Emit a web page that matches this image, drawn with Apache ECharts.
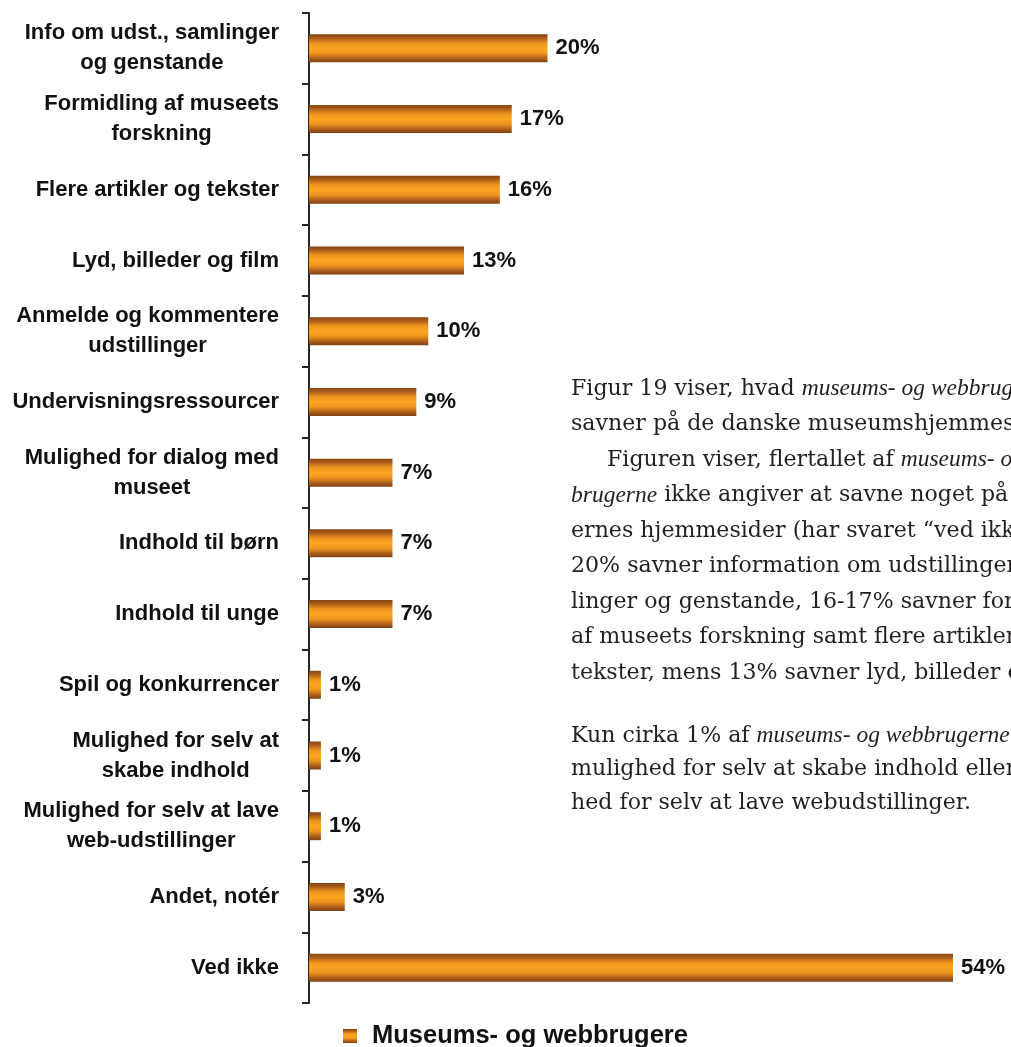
<!DOCTYPE html>
<html>
<head>
<meta charset="utf-8">
<script src="https://cdn.jsdelivr.net/npm/echarts@6/dist/echarts.min.js"></script>
<style>
html,body{margin:0;padding:0;background:#fff;}
#chart{width:1011px;height:1047px;}
</style>
</head>
<body>
<div id="chart"></div>
<script>
const categories = [
  "Info om udst., samlinger\nog genstande",
  "Formidling af museets\nforskning",
  "Flere artikler og tekster",
  "Lyd, billeder og film",
  "Anmelde og kommentere\nudstillinger",
  "Undervisningsressourcer",
  "Mulighed for dialog med\nmuseet",
  "Indhold til børn",
  "Indhold til unge",
  "Spil og konkurrencer",
  "Mulighed for selv at\nskabe indhold",
  "Mulighed for selv at lave\nweb-udstillinger",
  "Andet, notér",
  "Ved ikke"
];
const values = [20, 17, 16, 13, 10, 9, 7, 7, 7, 1, 1, 1, 3, 54];
const seriesName = "Museums- og webbrugere";

// Paragraph text (page text overlapping the chart); {i|...} = italic
const paragraphLines = [
  "Figur 19 viser, hvad {i|museums- og webbrugerne}",
  "savner på de danske museumshjemmesider.",
  "Figuren viser, flertallet af {i|museums- og web-}",
  "{i|brugerne} ikke angiver at savne noget på muse-",
  "ernes hjemmesider (har svaret “ved ikke”).",
  "20% savner information om udstillinger, sam-",
  "linger og genstande, 16-17% savner formidling",
  "af museets forskning samt flere artikler og",
  "tekster, mens 13% savner lyd, billeder og film.",
  "Kun cirka 1% af {i|museums- og webbrugerne} savner",
  "mulighed for selv at skabe indhold eller mulig-",
  "hed for selv at lave webudstillinger."
];

const barGrad = new echarts.graphic.LinearGradient(0, 0, 0, 1, [
  {offset: 0, color: '#864511'},
  {offset: 0.12, color: '#a8591a'},
  {offset: 0.32, color: '#ee951e'},
  {offset: 0.5, color: '#f9a521'},
  {offset: 0.68, color: '#ee951e'},
  {offset: 0.88, color: '#a8591a'},
  {offset: 1, color: '#7e4110'}
]);

const serifFont = '"DejaVu Serif", "Liberation Serif", serif';
const italicFont = '"Liberation Serif", "DejaVu Serif", serif';
const lineX = [571, 571, 607, 571, 571, 571, 571, 571, 571, 571, 571, 571];
const lineY = [389, 424.5, 460, 495.5, 531, 566.5, 602, 637.5, 673, 736, 769.5, 803];
const graphics = paragraphLines.map((t, k) => ({
  type: 'text',
  x: lineX[k],
  y: lineY[k],
  silent: true,
  style: {
    text: t,
    fill: '#231f20',
    font: '22.1px ' + serifFont,
    verticalAlign: 'middle',
    align: 'left',
    rich: {
      i: {fontStyle: 'italic', fontFamily: italicFont, fontSize: 23.5, fill: '#231f20', color: '#231f20'}
    }
  }
}));

const chart = echarts.init(document.getElementById('chart'), null, {renderer: 'canvas'});
chart.setOption({
  animation: false,
  backgroundColor: '#ffffff',
  grid: {left: 309, right: 58, top: 13, bottom: 44, containLabel: false},
  xAxis: {
    type: 'value', min: 0, max: 54, show: false
  },
  yAxis: {
    type: 'category',
    inverse: true,
    data: categories,
    axisLine: {show: true, lineStyle: {color: '#262626', width: 2}},
    axisTick: {show: true, inside: false, length: 7, lineStyle: {color: '#262626', width: 2}},
    splitLine: {show: false},
    axisLabel: {
      margin: 30,
      align: 'right',
      formatter: v => v.split('\n').map(s => '{c|' + s + '}').join('\n'),
      rich: {
        c: {
          align: 'center',
          fontSize: 22,
          fontWeight: 'bold',
          fontFamily: '"Liberation Sans", Arial, sans-serif',
          color: '#111111',
          lineHeight: 30
        }
      }
    }
  },
  legend: {
    show: true,
    left: 338,
    top: 1018,
    itemWidth: 14,
    itemHeight: 14,
    itemGap: 10,
    icon: 'rect',
    textStyle: {
      fontSize: 25.5,
      fontWeight: 'bold',
      fontFamily: '"Liberation Sans", Arial, sans-serif',
      color: '#111111',
      padding: [0, 0, 0, 10]
    },
    data: [seriesName]
  },
  series: [{
    name: seriesName,
    type: 'bar',
    data: values,
    barWidth: 28,
    itemStyle: {color: barGrad},
    label: {
      show: true,
      position: 'right',
      distance: 8,
      formatter: '{c}%',
      fontSize: 22,
      fontWeight: 'bold',
      fontFamily: '"Liberation Sans", Arial, sans-serif',
      color: '#111111'
    }
  }],
  graphic: graphics
});
</script>
</body>
</html>
